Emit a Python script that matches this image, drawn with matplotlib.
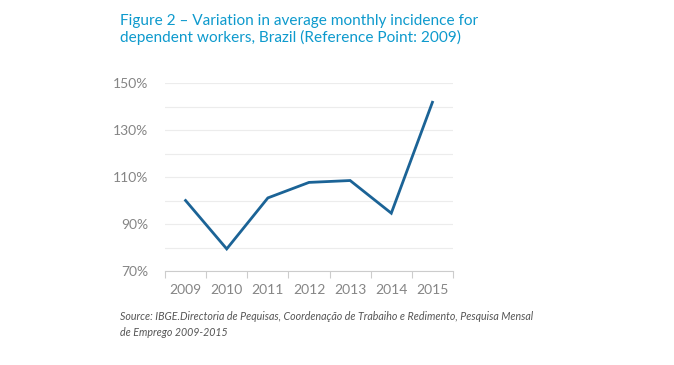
import matplotlib
matplotlib.use("Agg")
import matplotlib.pyplot as plt
import numpy as np

years = ["2009", "2010", "2011", "2012", "2013", "2014", "2015"]
values = [100.0, 79.4, 101.1, 107.7, 108.5, 94.6, 141.8]
y_ticks = [70, 90, 110, 130, 150]

plt.rcParams["font.family"] = ["Lato", "DejaVu Sans"]

fig = plt.figure(figsize=(6.74, 3.65), dpi=100)
ax = fig.add_axes([165 / 674, 1 - 271 / 365, (453 - 165) / 674, (271 - 83) / 365])

x = np.arange(len(years))
ax.plot(x, values, color="#1b6396", lw=2.0, solid_joinstyle="miter")

ax.set_xlim(-0.5, len(years) - 0.5)
ax.set_ylim(70, 150)
ax.set_yticks(y_ticks)
ax.set_yticklabels([f"{v}%" for v in y_ticks])
ax.set_yticks(np.arange(80, 150, 10), minor=True)
ax.grid(axis="y", which="both", color="#ececec", lw=0.8)
ax.set_axisbelow(True)

ax.set_xticks(x)
ax.set_xticklabels(years)
ax.set_xticks(np.arange(-0.5, len(years)), minor=True)
ax.tick_params(axis="x", which="major", length=0, pad=9, labelsize=10, labelcolor="#858585")
ax.tick_params(axis="x", which="minor", length=5, color="#cccccc", width=0.8)
ax.tick_params(axis="y", which="both", length=0, pad=12, labelsize=10, labelcolor="#858585")

for s in ["left", "right", "top"]:
    ax.spines[s].set_visible(False)
ax.spines["bottom"].set_color("#cccccc")
ax.spines["bottom"].set_linewidth(0.8)

fig.text(120 / 674, 1 - 14 / 365,
         "Figure 2 \u2013 Variation in average monthly incidence for\n"
         "dependent workers, Brazil (Reference Point: 2009)",
         color="#0e9acd", fontsize=11.1, va="top", ha="left", linespacing=1.2)

fig.text(120 / 674, 1 - 311 / 365,
         "Source: IBGE.Directoria de Pequisas, Coordena\u00e7\u00e3o de Trabaiho e Redimento, Pesquisa Mensal\n"
         "de Emprego 2009-2015",
         color="#555555", fontsize=7.7, style="italic", va="top", ha="left", linespacing=1.55)

fig.savefig("out.png", dpi=100, facecolor="white")
